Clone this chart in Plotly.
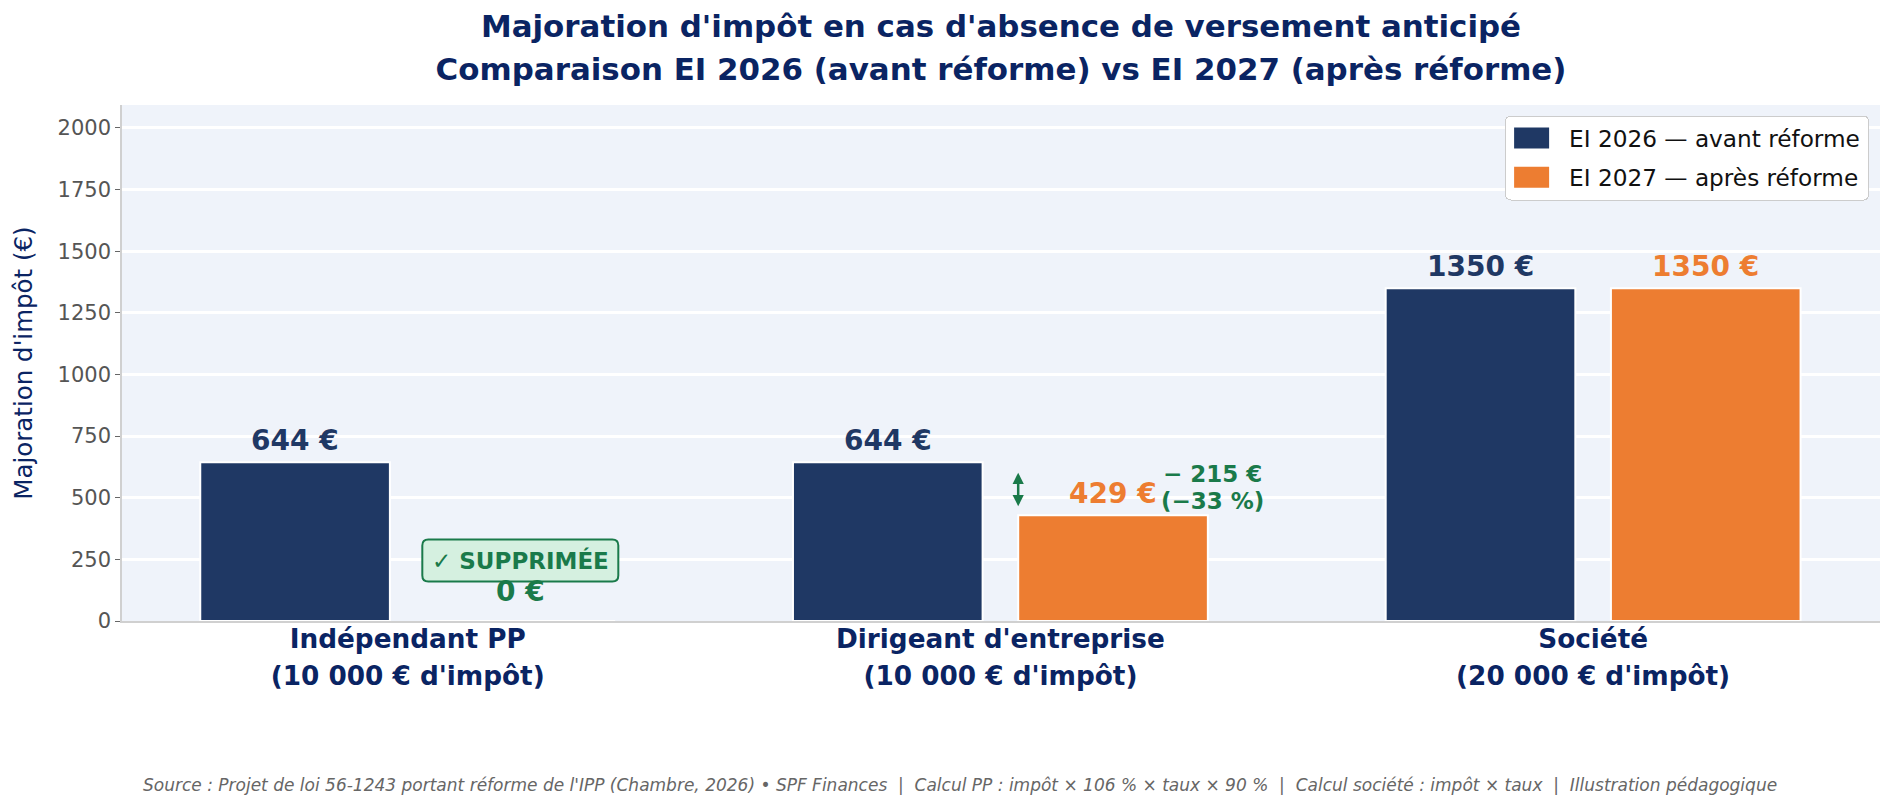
import plotly.graph_objects as go

group_names = ["Indépendant PP", "Dirigeant d'entreprise", "Société"]
group_notes = ["(10 000 € d'impôt)", "(10 000 € d'impôt)", "(20 000 € d'impôt)"]
series_names = ["EI 2026 — avant réforme", "EI 2027 — après réforme"]
values_2026 = [644, 644, 1350]
values_2027 = [0, 429, 1350]
y_ticks = [0, 250, 500, 750, 1000, 1250, 1500, 1750, 2000]
title_l1 = "Majoration d'impôt en cas d'absence de versement anticipé"
title_l2 = "Comparaison EI 2026 (avant réforme) vs EI 2027 (après réforme)"
footer = ("Source : Projet de loi 56-1243 portant réforme de l'IPP (Chambre, 2026) • SPF Finances  |  "
          "Calcul PP : impôt × 106 % × taux × 90 %  |  Calcul société : impôt × taux  |  Illustration pédagogique")

NAVY, ORANGE, GREEN, INK = "#1F3864", "#ED7D31", "#1A7A4A", "#0A2463"
FONT = "DejaVu Sans"
OFF = 0.19
categories = [f"{a}<br>{b}" for a, b in zip(group_names, group_notes)]
tick_text = [f'<span style="font-size:26.3px">{a}</span><br><span style="font-size:26.3px">{b}</span>'
             for a, b in zip(group_names, group_notes)]


def sized(lines, px):
    return "<br>".join(f'<span style="font-size:{px}px"><b>{t}</b></span>' for t in lines)


fig = go.Figure()
for name, vals, col in [(series_names[0], values_2026, NAVY), (series_names[1], values_2027, ORANGE)]:
    fig.add_bar(x=categories, y=vals, name=name, legendgroup=name,
                marker=dict(color=col, line=dict(color="white", width=2)))


def label(i, sign, v, col, shift=22):
    fig.add_annotation(x=i + sign * OFF, y=v, text=f"<b>{v} €</b>", showarrow=False,
                       yshift=shift, font=dict(family=FONT, size=28, color=col))


for i, v in enumerate(values_2026):
    label(i, -1, v, NAVY)
for i, v in enumerate(values_2027):
    if v:
        label(i, 1, v, ORANGE)
label(0, 1, 0, GREEN, shift=30)

# Badge
fig.add_shape(type="path", xref="x", yref="y", xsizemode="pixel", ysizemode="pixel",
              xanchor=OFF, yanchor=245,
              path="M-92,-21 H92 Q98,-21 98,-15 V15 Q98,21 92,21 H-92 Q-98,21 -98,15 V-15 Q-98,-21 -92,-21 Z",
              fillcolor="#D5F0E0", line=dict(color=GREEN, width=2), layer="above")
fig.add_annotation(x=OFF, y=247, text="<b>✓ SUPPRIMÉE</b>", showarrow=False,
                   font=dict(family=FONT, size=23, color=GREEN))

# Gap arrow
fig.add_annotation(x=1.03, y=values_2027[1], ax=1.03, ay=values_2026[1], xref="x", yref="y", axref="x", ayref="y",
                   text="", showarrow=True, arrowhead=2, arrowside="end+start", arrowsize=0.9, arrowwidth=2.5,
                   arrowcolor=GREEN, standoff=9, startstandoff=9)
fig.add_annotation(x=1.357, y=values_2027[1], yshift=28, text=sized(["− 215 €", "(−33 %)"], 23), showarrow=False,
                   yanchor="middle", font=dict(family=FONT, size=20.5, color=GREEN))

fig.add_annotation(xref="paper", yref="paper", x=0.5, xanchor="center", y=-0.318, yanchor="middle", showarrow=False,
                   xshift=-41, text=f"<i>{footer}</i>", font=dict(family=FONT, size=17, color="#666666"))

fig.update_layout(
    width=1895, height=808, margin=dict(l=122, r=15, t=105, b=187),
    paper_bgcolor="white", plot_bgcolor="#EFF3FA",
    barmode="group", bargap=0.24, bargroupgap=0.158,
    font=dict(family=FONT, color="#555555"),
    title=dict(text=sized([title_l1, title_l2], 30.9), x=0.5, xref="paper", xanchor="center", y=0.9545, yanchor="middle",
               font=dict(family=FONT, size=33, color=INK)),
    legend=dict(x=0.9921, xanchor="right", y=0.9796, yanchor="top", bgcolor="white", bordercolor="#CCCCCC",
                borderwidth=1, font=dict(family=FONT, size=23.2, color="#111111"), tracegroupgap=6, itemwidth=53),
    xaxis=dict(range=[-0.482, 2.484], ticks="", showgrid=False, showline=True, linecolor="#D0D0D0", linewidth=1.5,
               tickmode="array", tickvals=categories, ticktext=tick_text, ticklabelstandoff=-10,
               tickfont=dict(family=FONT, size=29, color=INK, weight="bold"), zeroline=False),
    yaxis=dict(range=[0, 2093], tickvals=y_ticks, tickformat="d", showgrid=True, gridcolor="white", gridwidth=3,
               zeroline=False, showline=True, linecolor="#D0D0D0", linewidth=1.5, ticks="outside", ticklen=5,
               tickcolor="#666666", tickfont=dict(family=FONT, size=21, color="#555555"),
               title=dict(text="Majoration d'impôt (€)", font=dict(family=FONT, size=24.5, color=INK), standoff=18)),
)

post = """
document.body.style.margin = '0';
document.body.style.overflow = 'hidden';
document.querySelectorAll('.legend rect.bg').forEach(function (r) {
  r.setAttribute('rx', 5);
  r.setAttribute('ry', 5);
  r.setAttribute('width', parseFloat(r.getAttribute('width')) + 3);
});
var clip = document.querySelector('.legend').getAttribute('clip-path');
document.querySelector('.legend').removeAttribute('clip-path');
document.querySelectorAll('.legendpoints path').forEach(function (p) {
  p.setAttribute('d', 'M12.5,11.5H-24.5V-11.5H12.5Z');
});
"""
fig.write_html("out.html", post_script=post, config={"displayModeBar": False})
